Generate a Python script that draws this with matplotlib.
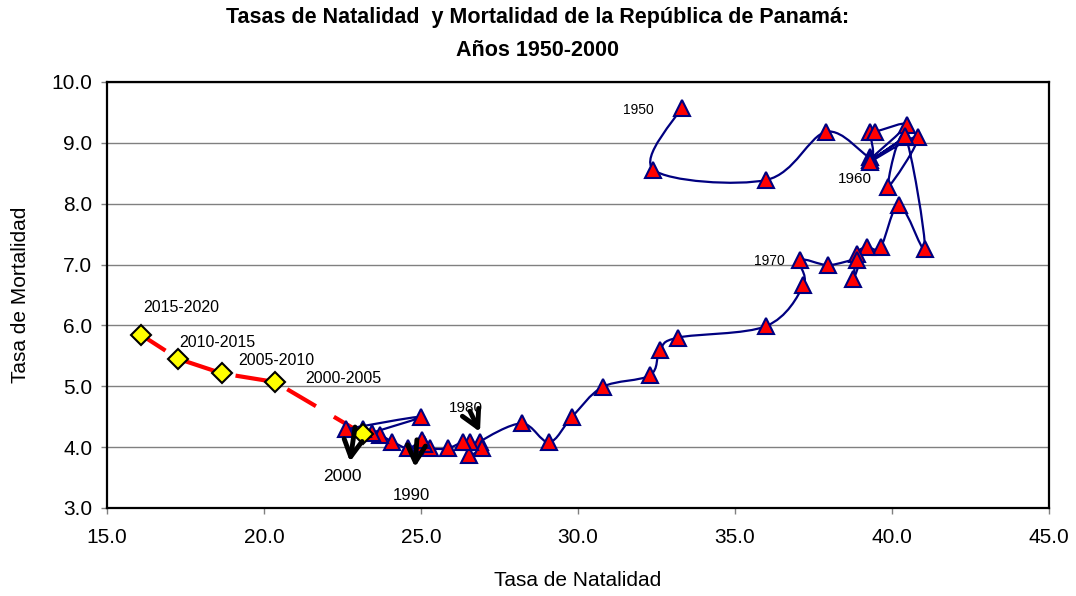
import numpy as np
import matplotlib
matplotlib.use("Agg")
import matplotlib.pyplot as plt
import matplotlib.patches as patches
from matplotlib.path import Path

plt.rcParams['font.family'] = ['Liberation Sans', 'DejaVu Sans']

# tasas observadas 1950-2000 (por mil)
natalidad = [33.3, 32.4, 36.0, 37.9, 39.3, 39.3, 39.45, 40.47, 39.3, 40.41,
             39.3, 40.82, 39.88, 40.41, 41.05, 40.23, 39.64, 39.19, 38.9, 38.77,
             38.9, 37.97, 37.07, 37.18, 36.0, 33.19, 32.61, 32.29, 30.79, 29.8,
             29.08, 28.21, 26.88, 26.93, 26.53, 26.56, 26.35, 25.85, 25.29, 25.1,
             25.02, 24.6, 24.09, 23.69, 23.43, 25.0, 22.6, 23.16]
mortalidad = [9.58, 8.56, 8.39, 9.18, 8.77, 9.18, 9.18, 9.30, 8.72, 9.09,
              8.69, 9.09, 8.28, 9.12, 7.26, 7.98, 7.29, 7.29, 7.18, 6.77,
              7.07, 6.99, 7.07, 6.66, 5.99, 5.80, 5.59, 5.18, 4.99, 4.49,
              4.08, 4.39, 4.09, 3.98, 3.87, 4.09, 4.09, 3.98, 3.98, 4.05,
              4.12, 3.98, 4.09, 4.20, 4.23, 4.50, 4.29, 4.29]

# proyecciones quinquenales
proy_nat = [23.14, 20.35, 18.67, 17.27, 16.10]
proy_mort = [4.22, 5.07, 5.21, 5.45, 5.84]
periodos = ['2000-2005', '2005-2010', '2010-2015', '2015-2020']
anios = ['1950', '1960', '1970', '1980', '1990', '2000']


def suave(xs, ys):
    # curva tipo "linea suavizada" de Excel
    pts = np.column_stack([xs, ys])
    n = len(pts)
    verts = [pts[0]]
    codes = [Path.MOVETO]
    for i in range(n - 1):
        p0 = pts[max(i - 1, 0)]
        p1 = pts[i]
        p2 = pts[i + 1]
        p3 = pts[min(i + 2, n - 1)]
        verts += [p1 + (p2 - p0) / 6, p2 - (p3 - p1) / 6, p2]
        codes += [Path.CURVE4] * 3
    return Path(verts, codes)


fig = plt.figure(figsize=(10.76, 5.96), dpi=100)
ax = fig.add_axes([0.0994, 0.1477, 0.8755, 0.7148])

ax.set_xlim(15, 45)
ax.set_ylim(3, 10)
ax.set_xticks(np.arange(15, 46, 5))
ax.set_yticks(np.arange(3, 11, 1))
ax.xaxis.set_major_formatter(matplotlib.ticker.FormatStrFormatter('%.1f'))
ax.yaxis.set_major_formatter(matplotlib.ticker.FormatStrFormatter('%.1f'))
ax.tick_params(axis='both', labelsize=15, length=4.5, width=1, color='#808080')
ax.tick_params(axis='x', pad=10)
ax.tick_params(axis='y', pad=6)
ax.yaxis.grid(True, color='#808080', lw=1)
ax.set_axisbelow(True)
for s in ax.spines.values():
    s.set_linewidth(1.6)
    s.set_color('black')

# serie observada
ax.add_patch(patches.PathPatch(suave(natalidad, mortalidad), fill=False,
                               edgecolor='#000080', lw=1.6, zorder=3))
ax.plot(natalidad, mortalidad, ls='none', marker='^', ms=11.5,
        mfc='red', mec='#000080', mew=1.5, zorder=4)

# proyecciones
ax.plot(proy_nat, proy_mort, color='red', lw=3, dashes=(8, 5), zorder=2)
ax.plot(proy_nat, proy_mort, ls='none', marker='D', ms=10,
        mfc='yellow', mec='black', mew=1.5, zorder=5)

# etiquetas de periodos
ax.text(22.52, 5.12, periodos[0], fontsize=11.5, ha='center', va='center')
ax.text(20.40, 5.42, periodos[1], fontsize=11.5, ha='center', va='center')
ax.text(18.51, 5.72, periodos[2], fontsize=11.5, ha='center', va='center')
ax.text(17.38, 6.30, periodos[3], fontsize=11.5, ha='center', va='center')

# etiquetas de anios
ax.text(31.91, 9.54, anios[0], fontsize=10, ha='center', va='center')
ax.text(38.82, 8.40, anios[1], fontsize=11, ha='center', va='center')
ax.text(36.11, 7.06, anios[2], fontsize=10, ha='center', va='center')
ax.text(26.43, 4.64, anios[3], fontsize=11, ha='center', va='center')
ax.text(24.70, 3.21, anios[4], fontsize=12, ha='center', va='center')
ax.text(22.51, 3.51, anios[5], fontsize=12.5, ha='center', va='center')

flecha = dict(arrowstyle='->,head_length=1.2,head_width=0.65', lw=3.5,
              color='black', mutation_scale=10, shrinkA=0, shrinkB=0)
ax.annotate('', xy=(26.88, 4.25), xytext=(26.56, 4.59), arrowprops=flecha, zorder=6)
ax.annotate('', xy=(24.81, 3.67), xytext=(24.87, 4.12), arrowprops=flecha, zorder=6)
ax.annotate('', xy=(22.74, 3.76), xytext=(22.90, 4.33), arrowprops=flecha, zorder=6)

ax.text(0.5, -0.171, 'Tasa de Natalidad', transform=ax.transAxes,
        fontsize=15, ha='center', va='center')
ax.text(-0.092, 0.5, 'Tasa de Mortalidad', transform=ax.transAxes,
        fontsize=15, ha='center', va='center', rotation=90)

fig.text(0.5, 1 - 18 / 596, 'Tasas de Natalidad  y Mortalidad de la República de Panamá:',
         fontsize=15.5, fontweight='bold', ha='center', va='center')
fig.text(0.5, 1 - 50 / 596, 'Años 1950-2000',
         fontsize=15.5, fontweight='bold', ha='center', va='center')

fig.savefig('out.png', dpi=100)
